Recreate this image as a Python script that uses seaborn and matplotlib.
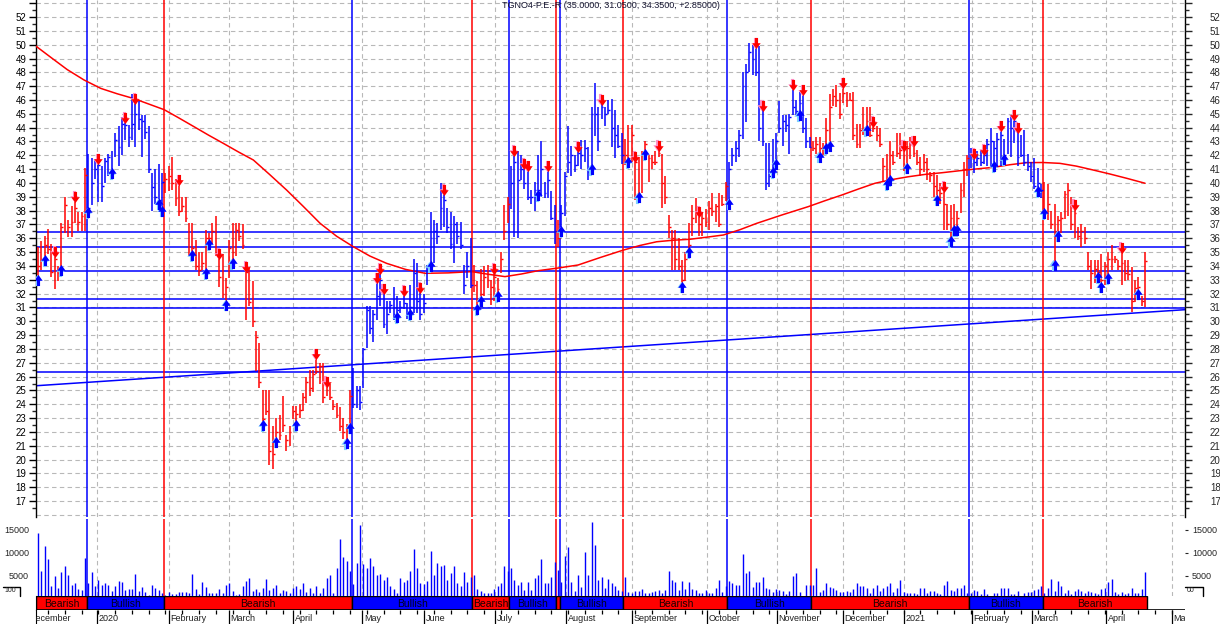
import numpy as np
import matplotlib
matplotlib.use("Agg")
import matplotlib.pyplot as plt
import seaborn as sns
from matplotlib.path import Path
from matplotlib.patches import Rectangle
from matplotlib.lines import Line2D

# ---------------- data ----------------
title = "TGNO4-P.E.-R (35.0000, 31.0500, 34.3500, +2.85000)"

highs = [
    35.4,35.8,36.2,36.7,35.6,35.0,34.0,37.1,39.0,37.3, 38.3,39.0,37.9,37.9,41.1,42.1,41.8,41.7,41.7,41.2,
    41.8,42.1,42.3,43.6,44.1,44.8,44.7,44.2,46.4,46.1, 45.9,44.9,44.9,44.1,40.7,41.0,41.4,40.7,40.7,41.2,
    41.9,40.3,40.2,39.0,39.0,37.1,37.1,35.9,35.0,35.0, 36.6,36.4,37.1,37.6,34.9,34.9,
    33.1,35.9,37.1,37.1,37.1,37.0,33.95,33.95,32.9,29.3, 28.4,25.0,25.0,25.0,22.4,23.0,23.2,24.6,21.8,22.4,
    23.9,23.9,24.0,24.8,26.0,26.5,26.5,27.6,27.0,27.0, 25.6,25.5,24.3,24.1,23.8,23.0,22.6,25.0,26.6,25.3,
    25.3,28.1,31.1,31.1,30.8,33.1,33.8,32.3,31.5,31.5, 32.5,31.8,31.5,32.2,31.3,
    32.6,34.5,34.2,32.4,32.0,34.1,37.9,37.3,37.1,40.0, 39.5,38.2,37.9,37.6,37.2,37.2,34.1,35.0,36.0,34.1,
    32.9,33.8,34.0,34.1,33.0,33.8,33.1,35.0,38.4,39.0, 41.2,42.3,42.3,42.0,41.4,41.2,39.5,40.1,42.0,43.0,
    40.1,41.2,39.4,38.4,37.3,38.4,40.8,44.1,42.7,42.0, 42.6,43.1,43.1,42.6,45.5,
    47.2,45.5,46.0,45.5,46.0,46.1,45.3,44.2,43.6,43.2, 44.2,44.2,41.9,41.9,42.3,43.0,42.0,42.0,42.3,42.7,
    42.1,40.5,37.7,36.6,36.6,36.0,34.4,35.0,37.1,38.4, 38.9,37.9,37.9,38.1,38.7,39.3,38.5,39.3,39.1,40.1,
    41.5,42.5,43.0,43.8,48.0,48.6,50.1,50.0,50.1,49.9, 45.6,42.9,42.9,43.2,43.6,
    45.9,44.9,44.9,45.0,47.1,46.0,46.6,46.7,44.7,43.3, 43.0,43.3,43.3,42.9,44.7,46.4,46.8,47.1,46.5,47.2,
    46.6,46.5,46.6,44.3,44.3,45.5,45.5,45.5,44.4,44.1, 44.0,41.8,42.1,43.0,42.3,43.6,43.6,42.7,43.0,43.3,
    43.0,42.4,41.9,42.1,41.8,40.8,40.8,40.6,40.0,39.7, 38.5,38.4,38.5,38.0,40.0,41.5,
    42.0,42.5,42.1,42.3,42.4,42.4,43.2,44.0,43.0,43.6, 44.1,43.2,44.7,44.9,44.9,44.0,43.5,43.8,42.1,41.5,
    41.8,41.1,39.9,40.1,39.9,38.0,38.5,37.6,37.9,39.4, 40.0,39.0,38.4,36.8,37.0,36.8,35.0,34.4,34.4,34.4,
    34.9,34.3,35.0,35.5,34.7,34.4,35.3,34.4,34.4,33.95, 33.0,33.2,31.8,35.0,
]
lows = [
    33.0,33.7,34.4,34.9,33.2,32.3,32.9,33.7,36.4,36.1, 36.1,37.1,36.5,36.5,36.5,37.9,38.4,40.3,38.6,38.6,
    40.0,40.5,40.7,41.9,41.2,42.0,43.1,42.6,43.1,42.6, 43.8,41.9,43.2,40.7,38.0,38.5,38.5,38.0,39.3,39.4,
    39.5,38.3,37.6,37.9,37.2,34.7,34.8,33.7,33.3,33.7, 33.5,35.6,35.6,34.7,32.5,31.7,
    31.2,33.1,34.2,34.7,35.8,35.2,30.1,31.1,29.6,26.4, 25.2,22.5,23.2,19.6,19.3,21.3,21.4,22.0,20.6,21.0,
    22.9,22.5,23.0,23.5,24.1,24.6,24.9,26.2,25.5,24.1, 24.6,24.3,23.6,23.0,22.1,21.5,21.2,22.3,23.7,23.7,
    23.6,25.2,28.1,29.1,28.5,30.1,31.1,29.5,29.1,30.6, 30.1,30.3,30.6,30.9,30.2,
    30.5,30.6,30.6,30.1,30.6,32.6,34.0,34.2,35.6,36.6, 36.8,36.4,35.2,34.2,35.6,35.2,32.0,33.1,32.4,32.1,
    30.9,31.5,31.8,32.4,31.2,31.5,31.8,33.5,35.9,37.1, 38.1,36.1,36.0,40.2,39.6,38.8,38.5,38.0,39.1,39.0,
    38.9,38.9,37.3,35.6,35.4,36.5,37.6,40.7,40.5,40.8, 41.2,41.0,41.5,40.2,41.0,
    43.4,42.3,44.6,44.1,45.0,42.6,41.8,42.5,41.4,41.3, 41.5,41.5,38.8,39.0,39.3,42.1,40.1,41.0,41.3,41.9,
    38.2,38.5,36.0,33.7,33.7,33.7,32.5,32.9,35.0,36.2, 37.1,36.2,36.2,36.8,36.6,37.6,37.2,36.8,38.3,38.7,
    38.5,41.2,41.5,41.9,43.2,44.4,48.0,47.8,47.7,43.0, 42.7,39.5,39.7,40.8,41.4,
    43.6,42.7,43.7,42.1,44.9,44.9,44.9,43.6,42.5,42.5, 42.3,42.1,41.9,42.0,42.5,42.7,45.6,45.5,44.6,45.8,
    45.5,45.9,43.1,42.5,42.5,43.5,43.8,43.3,43.7,43.0, 42.6,40.1,39.9,40.2,41.3,41.9,41.7,40.9,41.1,41.7,
    41.9,41.3,40.5,40.8,40.2,40.1,39.0,38.8,38.5,36.6, 36.6,35.8,36.6,36.6,37.8,39.0,
    40.5,41.1,40.7,41.2,41.2,41.4,41.2,41.2,41.2,41.2, 41.2,41.7,42.1,41.9,42.9,41.2,41.9,41.2,40.9,40.1,
    39.6,39.4,38.9,37.8,37.3,36.7,34.1,36.2,36.4,37.4, 37.6,36.6,36.0,35.9,35.4,35.6,33.7,32.3,32.8,33.2,
    32.5,32.6,33.1,33.7,34.2,33.7,32.6,32.9,33.0,30.7, 31.4,32.0,31.1,31.05,
]
closes = [
    34.0,34.5,35.5,35.2,33.6,34.5,33.5,36.8,38.4,36.8, 37.2,38.2,37.2,37.6,40.6,38.2,40.0,41.0,41.3,39.8,
    41.6,41.9,40.9,43.1,42.6,44.3,44.2,43.3,44.3,45.0, 44.6,44.5,43.7,41.0,39.7,39.0,38.8,40.1,40.3,40.5,
    40.0,38.9,38.0,38.3,37.5,34.9,35.3,34.0,33.7,34.2, 36.0,36.0,36.5,35.0,33.2,32.0,
    32.5,35.3,35.0,36.6,36.2,35.5,33.6,31.4,30.0,28.9, 25.6,22.9,23.5,20.6,20.4,22.0,21.8,22.5,21.4,22.0,
    23.5,23.3,23.6,24.5,25.6,25.2,26.2,26.4,26.8,24.5, 25.0,24.5,23.9,23.2,22.4,22.0,22.1,24.6,24.0,25.0,
    24.2,28.0,30.8,29.5,30.5,31.8,33.0,29.8,30.5,31.2, 30.5,30.8,31.0,31.3,30.6,
    31.0,33.5,31.5,30.5,31.3,33.8,36.0,36.5,36.2,38.2, 38.8,36.8,35.6,37.0,36.2,35.5,32.6,34.0,32.6,32.6,
    31.5,32.0,33.2,33.0,32.5,33.2,32.3,34.5,36.5,38.5, 40.0,41.5,40.2,41.0,40.0,39.0,39.0,39.5,39.5,41.0,
    39.3,40.2,37.5,36.5,36.0,37.8,40.5,41.5,42.0,41.3, 42.2,42.0,42.5,40.8,45.0,
    45.0,43.0,45.5,45.0,45.3,44.0,43.5,42.7,42.0,42.0, 41.8,43.5,41.5,39.2,42.0,42.8,41.8,41.5,41.5,42.2,
    40.0,39.0,36.8,36.0,34.5,34.0,33.0,34.5,35.5,37.5, 38.0,37.0,37.5,37.2,38.2,38.0,38.3,37.0,38.5,39.8,
    41.0,42.0,42.5,43.5,47.0,48.0,49.5,49.0,48.0,44.0, 43.0,40.0,40.5,41.0,43.0,
    44.0,44.5,44.2,44.8,45.5,45.2,45.8,44.0,43.0,42.6, 42.5,42.8,42.5,42.2,43.8,45.5,46.3,46.0,45.0,46.5,
    46.0,46.0,43.5,42.8,43.8,44.0,44.5,43.5,44.0,43.5, 42.8,41.2,40.2,42.0,41.5,42.2,42.4,42.0,42.5,42.8,
    42.2,41.5,41.0,41.5,41.0,40.6,39.8,39.5,39.3,38.5, 37.0,37.5,36.8,37.5,39.5,41.0,
    41.8,42.0,41.5,41.8,41.5,42.0,42.8,43.0,42.5,43.2, 43.5,42.0,44.5,44.0,44.5,41.9,42.0,41.5,41.2,40.5,
    39.8,40.0,39.5,38.0,38.5,37.0,36.5,37.3,37.5,39.2, 39.5,37.0,37.8,36.2,36.5,36.0,34.0,33.5,33.8,33.6,
    33.0,34.0,34.5,34.5,34.5,34.0,34.2,33.5,33.4,31.5, 32.4,32.5,31.5,34.35,
]
volume_thousands = [
    14.3,6.0,11.5,8.6,2.7,4.9,2.3,5.9,7.1,5.1, 3.0,3.5,2.0,1.9,8.8,3.5,5.7,2.7,4.0,3.0,
    3.5,3.0,1.6,2.7,3.8,3.6,1.9,2.1,2.1,5.4, 1.6,2.6,1.5,0.8,3.0,2.3,1.9,1.3,0.8,1.5,
    1.0,1.0,1.5,1.4,1.5,1.1,5.4,2.1,1.0,3.7, 2.6,1.3,1.3,1.3,2.1,1.3,3.0,3.5,1.6,0.8,
    1.0,2.7,3.8,4.4,1.6,2.1,1.4,2.2,4.3,1.9, 2.4,3.0,1.3,1.8,1.6,1.3,2.2,2.7,2.0,3.5,
    1.5,2.2,1.3,2.7,1.3,2.4,4.4,5.1,1.3,6.7, 13.0,9.0,8.1,6.0,3.2,7.8,16.1,7.5,6.7,8.8,
    7.2,5.1,5.4,4.0,4.7,2.7,2.0,1.2,
    4.4,3.7,4.1,6.0,10.8,6.6,3.5,3.2,3.9,10.4, 5.1,7.8,7.1,7.3,4.0,5.6,7.2,3.5,2.7,5.8,
    3.7,4.7,5.1,2.1,1.7,1.1,1.3,1.3,2.1,2.7, 3.3,7.2,6.0,6.6,4.0,3.0,3.6,1.9,3.7,1.9,
    4.4,5.1,8.6,3.5,3.3,4.8,8.0,6.3,3.7,9.3, 11.3,3.7,1.7,5.1,2.6,10.2,5.1,16.7,11.7,4.0,
    4.8,2.2,4.3,3.5,2.7,1.9,1.6,4.7,1.5,1.1, 1.6,1.6,2.0,1.1,1.3,1.5,1.6,1.9,1.1,1.9,
    6.0,4.0,3.6,1.9,3.8,2.0,3.6,2.0,1.9,1.3, 1.3,1.9,1.3,1.3,2.2,4.0,1.5,2.7,3.8,3.3,
    3.0,3.0,9.7,5.6,6.0,2.6,3.7,3.6,4.7,2.2, 2.0,1.5,2.0,1.9,1.6,1.0,1.6,4.9,5.6,
    1.5,0.5,3.0,3.0,3.0,6.7,1.5,1.9,3.5,2.6, 2.2,1.9,1.5,1.5,1.6,1.5,2.0,3.5,2.7,2.7,
    2.4,1.3,2.2,3.0,1.6,2.2,2.7,3.5,1.5,2.2, 4.0,1.5,1.3,1.1,1.1,1.0,2.2,2.2,1.3,1.7,
    1.7,1.3,1.0,3.0,3.8,1.9,1.6,2.2,2.2,3.0, 1.2,1.3,1.9,1.6,1.0,2.1,1.0,0.6,1.1,1.1,
    2.4,2.2,2.4,1.0,1.0,1.6,0.6,1.3,1.5,1.5, 1.9,2.1,2.7,1.1,2.2,4.3,1.6,3.9,2.7,1.1,
    1.8,0.9,1.6,2.1,1.6,1.3,1.6,1.4,1.3,0.9, 2.1,2.2,3.7,4.2,1.5,0.9,1.5,1.0,1.1,2.2,
    1.3,1.1,2.1,5.8,
]

regime_start_bar = [0, 15, 38, 94, 130, 141, 155, 156, 175, 206, 231, 278, 300]
regime_label = ["Bearish", "Bullish", "Bearish", "Bullish", "Bearish", "Bullish", "Bearish",
                "Bullish", "Bearish", "Bullish", "Bearish", "Bullish", "Bearish"]

buy_arrow_bars = [0, 2, 7, 15, 22, 36, 37, 46, 50, 51, 56, 58, 67, 71, 77, 92, 93, 107, 111, 117,
                  131, 132, 137, 149, 156, 165, 176, 179, 181, 192, 194, 206, 219, 220, 227, 233,
                  235, 236, 247, 253, 254, 259, 268, 272, 273, 274, 285, 288, 298, 300, 303, 304,
                  316, 317, 319, 328]
sell_arrow_bars = [5, 11, 18, 26, 29, 42, 54, 62, 83, 86, 101, 102, 103, 109, 114, 121, 136, 142,
                   145, 146, 152, 161, 168, 178, 185, 197, 214, 216, 225, 228, 240, 249, 258, 261,
                   270, 279, 282, 287, 291, 292, 309, 323]

ma_bar = [-1.2, 4.0, 8.7, 13.7, 18.7, 23.6, 28.6, 33.1, 37.6, 42.0, 46.5, 50.9, 55.2, 59.7, 64.2,
          69.1, 74.1, 79.1, 84.1, 89.0, 94.0, 98.9, 103.9, 109.6, 115.4, 122.3, 129.3, 134.2,
          139.2, 144.1, 149.1, 155.0, 161.0, 167.7, 174.5, 179.4, 184.4, 189.3, 194.3, 199.3,
          204.3, 209.2, 214.2, 221.9, 229.6, 234.6, 239.6, 244.5, 249.5, 254.4, 259.4, 264.4,
          269.4, 277.0, 284.7, 289.7, 294.7, 299.6, 304.6, 309.5, 314.5, 319.5, 324.5, 330.0]
ma_val = [50.0, 49.05, 48.2, 47.45, 46.84, 46.45, 46.1, 45.7, 45.3, 44.7, 44.07, 43.45, 42.87,
          42.25, 41.66, 40.6, 39.49, 38.3, 37.08, 36.15, 35.39, 34.72, 34.19, 33.75, 33.47, 33.5,
          33.59, 33.4, 33.23, 33.42, 33.66, 33.85, 34.07, 34.62, 35.15, 35.48, 35.75, 35.86,
          35.93, 36.08, 36.24, 36.62, 37.08, 37.7, 38.29, 38.72, 39.13, 39.56, 39.98, 40.24,
          40.45, 40.62, 40.74, 40.95, 41.13, 41.32, 41.47, 41.48, 41.42, 41.22, 40.94, 40.65,
          40.34, 39.98]

level_lines = [36.43, 35.35, 33.64, 31.6, 30.94, 26.31]
trend_bar = [-0.6, 341.9]
trend_val = [25.34, 30.84]

month_labels = ["December", "2020", "February", "March", "April", "May", "June", "July", "August",
                "September", "October", "November", "December", "2021", "February", "March",
                "April", "May"]
month_pos = [-3.0, 17.5, 39.0, 56.9, 76.0, 96.6, 115.1, 136.2, 157.4, 177.0, 199.4, 220.3,
             239.9, 258.1, 278.4, 296.3, 318.3, 338.0]

# ---------------- styling ----------------
sns.set_style("white")
plt.rcParams["font.family"] = ["Liberation Sans", "DejaVu Sans"]
RED, BLUE = "#ff0000", "#0000ff"
GRID = dict(color="#b8b8b8", linestyle=(0, (4, 3)), linewidth=0.8)

n = len(highs)
idx = np.arange(n)
highs = np.array(highs); lows = np.array(lows); closes = np.array(closes)
vol = np.array(volume_thousands) * 1000.0

bar_color = np.empty(n, dtype=object)
bounds = regime_start_bar + [n]
for k, lab in enumerate(regime_label):
    bar_color[bounds[k]:bounds[k + 1]] = RED if lab == "Bearish" else BLUE

W, H = 1220, 624
def rect(x0, y0, x1, y1):
    return [x0 / W, 1 - y1 / H, (x1 - x0) / W, (y1 - y0) / H]

fig = plt.figure(figsize=(12.2, 6.24), dpi=100)
ax = fig.add_axes(rect(36, 0, 1185, 517))
axv = fig.add_axes(rect(36, 519, 1185, 596), sharex=ax)
axb = fig.add_axes(rect(36, 596, 1185, 610), sharex=ax)
axl = fig.add_axes(rect(36, 610, 1185, 624), sharex=ax)

XMIN, XMAX = -0.6, 341.9
YMIN, YMAX = 15.85, 53.23

# grid
for p in range(16, 54):
    ax.axhline(p, zorder=0, **GRID)
for m in month_pos:
    ax.axvline(m, zorder=0, **GRID)
    axv.axvline(m, zorder=0, **GRID)

# level lines and trend line
for lv in level_lines:
    ax.axhline(lv, color=BLUE, linewidth=1.1, zorder=2)
sns.lineplot(x=trend_bar, y=trend_val, ax=ax, color=BLUE, linewidth=1.1, sort=False,
             estimator=None, legend=False, zorder=2)

# regime vertical lines
for k in range(1, len(regime_start_bar)):
    c = RED if regime_label[k] == "Bearish" else BLUE
    for a in (ax, axv):
        a.axvline(regime_start_bar[k] - 0.5, color=c, linewidth=1.1, zorder=3)

# moving average
sns.lineplot(x=ma_bar, y=ma_val, ax=ax, color=RED, linewidth=1.1, sort=False,
             estimator=None, legend=False, zorder=3)

# price bars
ax.vlines(idx, lows, highs, colors=list(bar_color), linewidth=1.1, zorder=4)
ax.hlines(closes, idx, idx + 0.55, colors=list(bar_color), linewidth=1.0, zorder=4)

# arrows
down_path = Path([(-0.28, 1), (0.28, 1), (0.28, 0.05), (0.75, 0.05), (0, -1), (-0.75, 0.05),
                  (-0.28, 0.05), (-0.28, 1)],
                 [Path.MOVETO] + [Path.LINETO] * 6 + [Path.CLOSEPOLY])
up_path = Path([(x, -y) for x, y in down_path.vertices], down_path.codes)
sb = np.array(sell_arrow_bars); bb = np.array(buy_arrow_bars)
ax.plot(sb - 0.35, highs[sb] + 0.05, linestyle="none", marker=down_path, markersize=8,
        color="#ff90c8", markeredgewidth=0, zorder=5)
ax.plot(sb, highs[sb], linestyle="none", marker=down_path, markersize=8,
        color=RED, markeredgewidth=0, zorder=6)
ax.plot(bb - 0.35, lows[bb] - 0.05, linestyle="none", marker=up_path, markersize=8,
        color="#80d0ff", markeredgewidth=0, zorder=5)
ax.plot(bb, lows[bb], linestyle="none", marker=up_path, markersize=8,
        color=BLUE, markeredgewidth=0, zorder=6)

# price axes ticks
yt = np.arange(17, 54)
ax.set_yticks(yt)
ax.set_yticklabels([str(v) if v <= 52 else "" for v in yt])
ax.set_yticks(np.arange(16.5, 53.5, 1.0), minor=True)
ax.tick_params(axis="y", which="major", left=True, length=5, width=1, pad=2,
               labelsize=7, colors="black", direction="out")
ax.tick_params(axis="y", which="minor", left=True, length=3, width=1, direction="out")
ax.tick_params(axis="x", which="both", length=0, labelbottom=False)
ax.set_xticks(month_pos)
for s in ("top", "bottom"):
    ax.spines[s].set_visible(False)
for s in ("left", "right"):
    ax.spines[s].set_color("black"); ax.spines[s].set_linewidth(1.0)
ax.set_ylim(YMIN, YMAX)

ax2 = ax.twinx()
ax2.set_ylim(YMIN, YMAX)
ax2.set_yticks(yt)
ax2.set_yticklabels([str(v) if v <= 52 else "" for v in yt])
ax2.set_yticks(np.arange(16.5, 53.5, 1.0), minor=True)
ax2.tick_params(axis="y", which="major", right=True, length=5, width=1, pad=13, labelsize=7)
ax2.tick_params(axis="y", which="minor", right=True, length=3, width=1)
for s in ("top", "bottom", "left", "right"):
    ax2.spines[s].set_visible(False)

ax.text(0.5, 1 - 6 / 517, title, transform=ax.transAxes, ha="center", va="center",
        fontsize=6.5, color="#141430", zorder=7)

# volume
axv.vlines(idx, 0, vol, colors=BLUE, linewidth=1.0, zorder=4)
axv.set_ylim(547, 17395)
axv.set_yticks([5000, 10000, 15000])
axv.set_yticklabels(["5000", "10000", "15000"])
axv.tick_params(axis="y", left=True, length=0, pad=5, labelsize=6.5)
axv.tick_params(axis="x", length=0, labelbottom=False)
for s in axv.spines.values():
    s.set_visible(False)
axv2 = axv.twinx()
axv2.set_ylim(547, 17395)
axv2.set_yticks([5000, 10000, 15000])
axv2.set_yticklabels(["5000", "10000", "15000"])
axv2.tick_params(axis="y", right=True, length=2, pad=3, labelsize=6.5)
for s in axv2.spines.values():
    s.set_visible(False)

# regime band
axb.set_ylim(0, 1)
for k, lab in enumerate(regime_label):
    x0 = bounds[k] - 0.5
    x1 = bounds[k + 1] - 0.5
    c = RED if lab == "Bearish" else BLUE
    axb.add_patch(Rectangle((x0, 0), x1 - x0, 1, facecolor=c, edgecolor="black", linewidth=1.0,
                            zorder=2))
    if x1 - x0 > 6:
        axb.text((x0 + x1) / 2, 0.45, lab, ha="center", va="center", fontsize=7.5,
                 color="#1a0000" if lab == "Bearish" else "#000020", zorder=3, clip_on=True)
axb.axhline(0, color="black", linewidth=1.2, zorder=4)
axb.tick_params(axis="both", length=0, labelbottom=False, labelleft=False)
for s in ("top", "right", "bottom"):
    axb.spines[s].set_visible(False)
axb.spines["left"].set_color("black")

# month labels row
axl.set_ylim(0, 1)
axl.vlines(month_pos, 0, 1, colors="black", linewidth=0.9)
axl.vlines(np.arange(3, 342, 5), 0.68, 1, colors="black", linewidth=0.9)
for lab, p in zip(month_labels, month_pos):
    axl.text(p + 0.5, 0.42, lab, ha="left", va="center", fontsize=6.5, color="#202020",
             clip_on=True)
axl.tick_params(axis="both", length=0, labelbottom=False, labelleft=False)
for s in ("top", "right", "bottom"):
    axl.spines[s].set_visible(False)
axl.spines["left"].set_color("black")

# small collapsed-panel markers
for xa, xb in ((3, 20), (1185, 1203)):
    fig.add_artist(Line2D([xa / W, xb / W, xb / W], [1 - 587 / H, 1 - 587 / H, 1 - 596 / H],
                          color="black", linewidth=1.0))
fig.text(4 / W, 1 - 590 / H, "100", fontsize=5, va="center")
fig.text(1187 / W, 1 - 590 / H, "00", fontsize=5, va="center")

# fix the shared x range last so no autoscaling can widen it
for a in (ax, axv, axb, axl):
    a.set_autoscalex_on(False)
ax.set_xlim(XMIN, XMAX)

fig.savefig("out.png", dpi=100)
